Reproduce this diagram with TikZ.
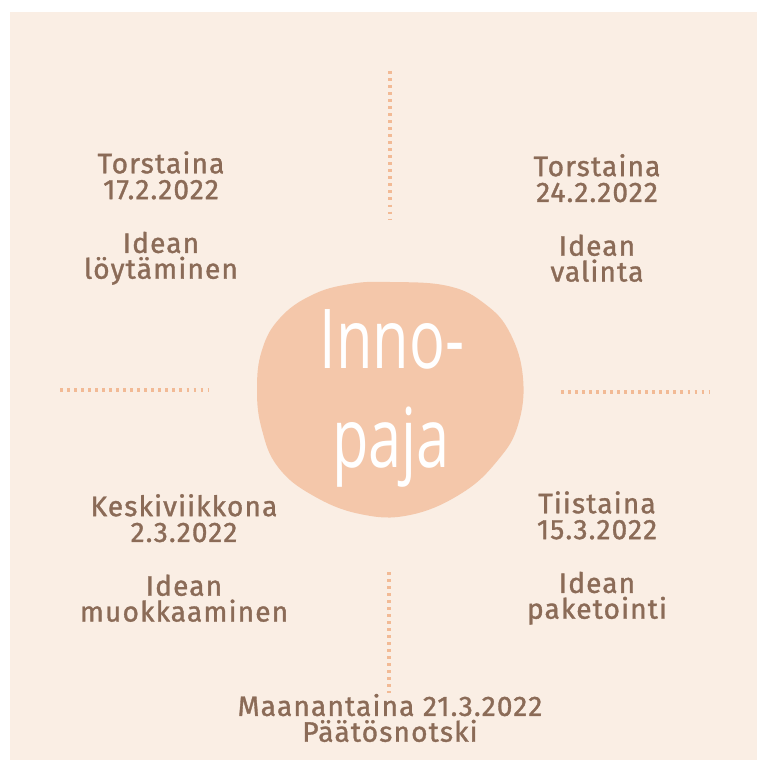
\documentclass[tikz,border=0pt]{standalone}
\usepackage{fontspec}
\setmainfont{Fira Sans}[LetterSpace=4,FakeBold=1.2]
\newfontfamily\handfont{Open Sans}
\definecolor{paper}{HTML}{FAEEE4}
\definecolor{blob}{HTML}{F4C7AA}
\definecolor{dots}{HTML}{F2BA95}
\definecolor{ink}{HTML}{8B6B57}
\tikzset{
  day/.style={font=\fontsize{16}{14.7}\selectfont, text=ink, align=center},
  divider/.style={dots, line width=1.9pt, dash pattern=on 1.6pt off 2.4pt},
  hand/.style={font=\handfont\fontsize{47}{47}\selectfont, text=white, anchor=base}
}
\begin{document}
\begin{tikzpicture}[x=0.02cm,y=-0.02cm]
        \useasboundingbox (0,0) rectangle (757,760);
        \fill[white] (0,0) rectangle (757,760);
        \fill[paper] (10,12) rectangle (757,760);
        % dotted dividers
        \draw[divider] (390,71) -- (390,219);
        \draw[divider] (60,390) -- (209,390);
        \draw[divider] (561,392) -- (710,392);
        \draw[divider] (389,572) -- (389,693);
        % the blob in the middle
        \fill[blob] plot[smooth cycle, tension=0.7] coordinates {(390,282) (448,286) (485,304) (510,333) (523,378) (518,425) (498,460) (462,493) (410,515) (360,514) (312,495) (278,467) (262,430) (257,390) (262,350) (280,318) (312,295) (350,284)};
        \node[hand] (inno) at (392,368) {\scalebox{0.72}[1]{Inno-}};
        \node[hand] (paja) at (391,467) {\scalebox{0.72}[1]{paja}};
        % the days
        \node[day] (first) at (161,218) {Torstaina\\17.2.2022\\[15.9pt]Idean\\löytäminen};
        \node[day] (second) at (597,218) {Torstaina\\24.2.2022\\[15.9pt]Idean\\valinta};
        \node[day] (third) at (184,558) {Keskiviikkona\\2.3.2022\\[15.9pt]Idean\\muokkaaminen};
        \node[day] (fourth) at (597,558) {Tiistaina\\15.3.2022\\[15.9pt]Idean\\paketointi};
        \node[day] (last) at (390,718) {Maanantaina 21.3.2022\\Päätösnotski};
    \end{tikzpicture}
\end{document}
